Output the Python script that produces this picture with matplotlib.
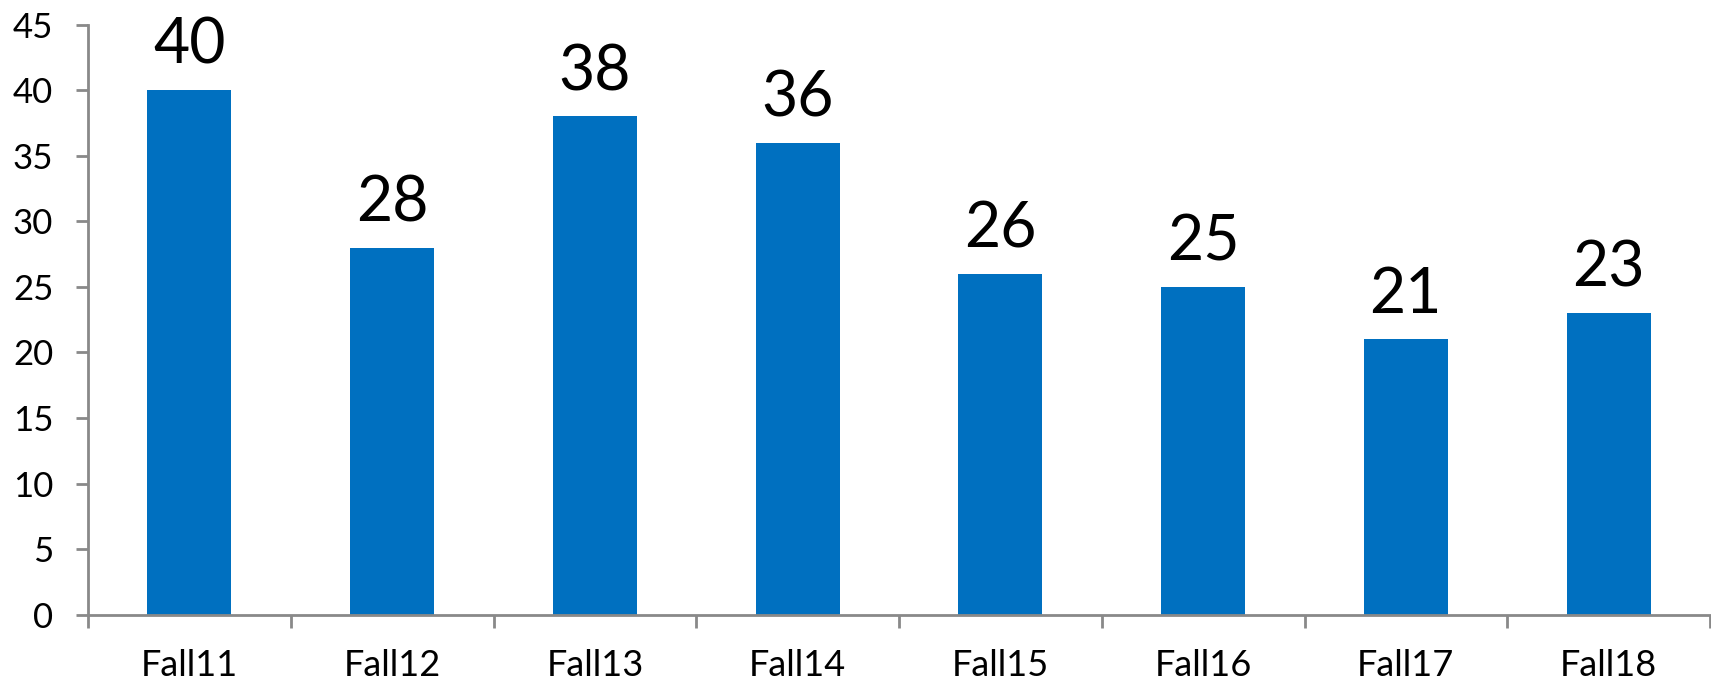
import numpy as np
import matplotlib.pyplot as plt

# data
categories = ['Fall11', 'Fall12', 'Fall13', 'Fall14', 'Fall15', 'Fall16', 'Fall17', 'Fall18']
values = [40, 28, 38, 36, 26, 25, 21, 23]
y_ticks = [0, 5, 10, 15, 20, 25, 30, 35, 40, 45]

plt.rcParams['font.family'] = ['Lato', 'DejaVu Sans']

fig = plt.figure(figsize=(17.11, 6.82), dpi=100)
ax = fig.add_axes([88 / 1711, 67.3 / 682, 1622 / 1711, 590 / 682])

x = np.arange(len(categories))
bars = ax.bar(x, values, width=0.414, color='#0070C0', zorder=2)

# value labels above the bars
for xi, v in zip(x, values):
    ax.annotate(str(v), (xi, v), xytext=(0, 11), textcoords='offset points',
                ha='center', va='bottom', fontsize=45, color='black')

ax.set_xlim(-0.5, len(categories) - 0.5)
ax.set_ylim(0, 45)
ax.set_yticks(y_ticks)
ax.set_yticklabels([str(t) for t in y_ticks])

# ticks at the category boundaries, labels at the centres
ax.set_xticks(np.arange(-0.5, len(categories), 1.0))
ax.set_xticklabels([])
ax.set_xticks(x, minor=True)
ax.set_xticklabels(categories, minor=True)
ax.tick_params(axis='x', which='major', length=9, width=2, color='#898989', direction='out')
ax.tick_params(axis='x', which='minor', length=0, pad=25, labelsize=26)
ax.tick_params(axis='y', length=9, width=2, color='#898989', pad=16, labelsize=25)

for side in ['top', 'right']:
    ax.spines[side].set_visible(False)
for side in ['left', 'bottom']:
    ax.spines[side].set_color('#898989')
    ax.spines[side].set_linewidth(2)

fig.savefig('out.png', dpi=100)
